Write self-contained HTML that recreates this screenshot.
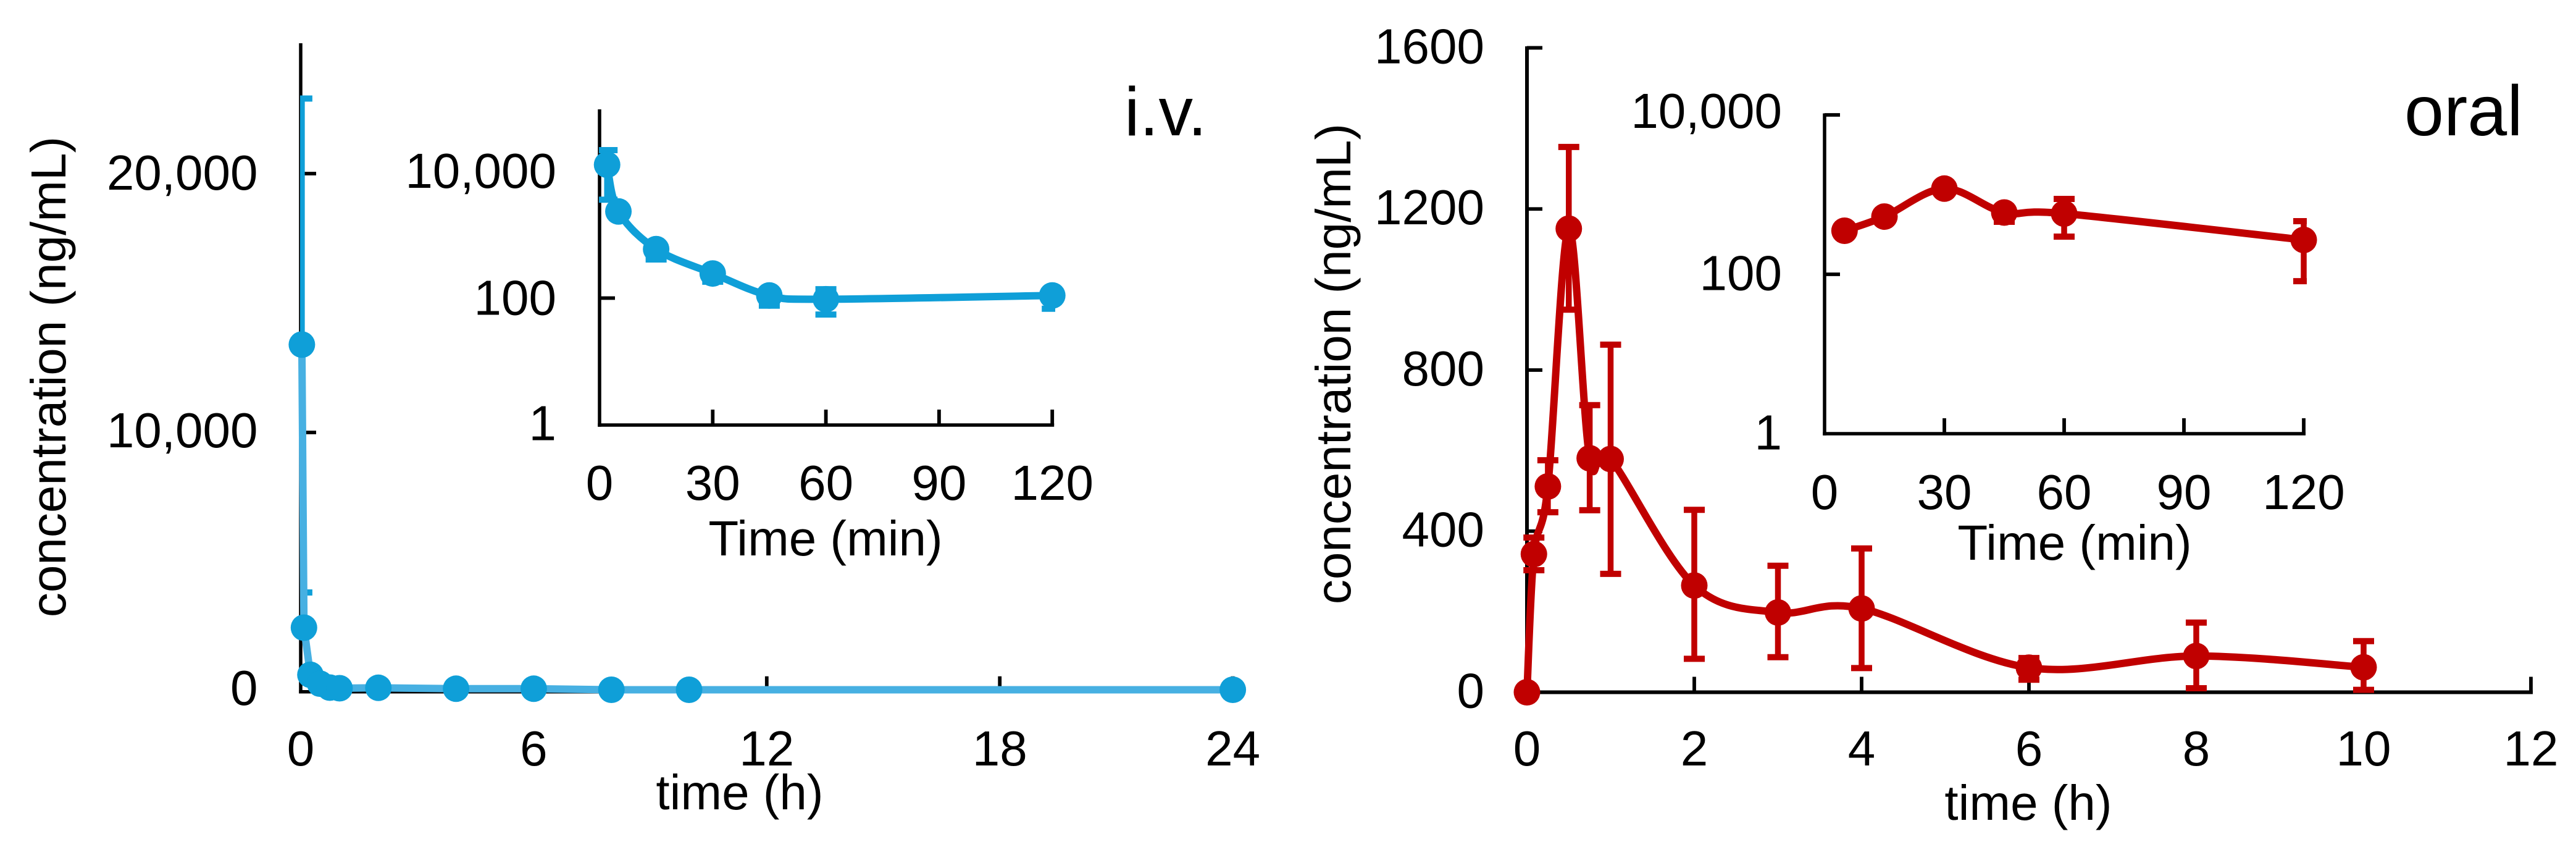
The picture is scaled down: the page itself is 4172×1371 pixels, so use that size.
<!DOCTYPE html>
<html lang="en">
<head>
<meta charset="utf-8">
<title>Concentration-time profiles, i.v. and oral</title>
<style>
  html,body{margin:0;padding:0;background:#fff;}
  #figure{display:block;width:4172px;height:1371px;}
  text{font-family:"Liberation Sans",Arial,sans-serif;fill:#000;font-size:80px;}
</style>
</head>
<body>
<svg id="figure" xmlns="http://www.w3.org/2000/svg" width="4172" height="1371" viewBox="0 0 4172 1371">
  <defs>
    <clipPath id="clip-iv-main"><rect x="486" y="0" width="1700" height="1371"/></clipPath>
    <clipPath id="clip-iv-inset"><rect x="970" y="100" width="739" height="700"/></clipPath>
    <clipPath id="clip-oral-main"><rect x="2400" y="0" width="1772" height="1371"/></clipPath>
    <clipPath id="clip-oral-inset"><rect x="2900" y="100" width="836" height="700"/></clipPath>
  </defs>
  <rect x="0" y="0" width="4172" height="1371" fill="#fff"/>
  <g id="iv-main"></g>
  <g id="iv-inset"></g>
  <g id="oral-main"></g>
  <g id="oral-inset"></g>

  <text transform="translate(106 610) rotate(-90)" text-anchor="middle">concentration (ng/mL)</text>
  <text x="1198" y="1310" text-anchor="middle">time (h)</text>
  <text x="1337" y="899" text-anchor="middle">Time (min)</text>
  <text x="1821" y="219" style="font-size:111px">i.v.</text>

  <text transform="translate(2187 589) rotate(-90)" text-anchor="middle">concentration (ng/mL)</text>
  <text x="3285" y="1327" text-anchor="middle">time (h)</text>
  <text x="3360" y="906" text-anchor="middle">Time (min)</text>
  <text x="3894" y="219" style="font-size:115px">oral</text>
</svg>

<script>
// ---- i.v. main chart data (hours, ng/mL)
var ivMainXTicks = [0, 6, 12, 18, 24];
var ivMainYTicks = [0, 10000, 20000];
var ivMainYLabels = ['0', '10,000', '20,000'];
var ivMainTimes = [0.03, 0.084, 0.25, 0.5, 0.75, 1, 2, 4, 6, 8, 10, 24];
var ivMainConc = [13394, 2458, 637, 294, 143, 119, 136, 100, 100, 60, 60, 60];
var ivMainHi = [22900, null, null, null, null, null, null, null, null, null, null, null];
var ivMainLo = [3820, null, null, null, null, null, null, null, null, null, null, null];

// ---- i.v. inset data (minutes, ng/mL, log axis)
var ivInsetXTicks = [0, 30, 60, 90, 120];
var ivInsetYTicks = [1, 100, 10000];
var ivInsetYLabels = ['1', '100', '10,000'];
var ivInsetTimes = [2, 5, 15, 30, 45, 60, 120];
var ivInsetConc = [12600, 2316, 590, 244, 110, 96, 110];
var ivInsetHi = [21400, 2700, 680, 280, 125, 138, 125];
var ivInsetLo = [3550, 2000, 406, 181, 76, 55, 68];

// ---- oral main chart data (hours, ng/mL)
var oralMainXTicks = [0, 2, 4, 6, 8, 10, 12];
var oralMainYTicks = [0, 400, 800, 1200, 1600];
var oralMainYLabels = ['0', '400', '800', '1200', '1600'];
var oralMainTimes = [0, 0.083, 0.25, 0.5, 0.75, 1, 2, 3, 4, 6, 8, 10];
var oralMainConc = [0, 343, 511, 1151, 581, 579, 265, 198, 208, 61, 90, 62];
var oralMainHi = [null, 384, 576, 1354, 713, 863, 453, 314, 357, 85, 173, 127];
var oralMainLo = [null, 303, 447, 950, 452, 294, 83, 87, 60, 31, 10, 6];

// ---- oral inset data (minutes, ng/mL, log axis)
var oralInsetXTicks = [0, 30, 60, 90, 120];
var oralInsetYTicks = [1, 100, 10000];
var oralInsetYLabels = ['1', '100', '10,000'];
var oralInsetTimes = [5, 15, 30, 45, 60, 120];
var oralInsetConc = [352, 530, 1189, 596, 578, 270];
var oralInsetHi = [380, 580, 1300, 650, 883, 464];
var oralInsetLo = [325, 480, 1080, 456, 297, 82];

// ---- axis functions
function ivMainX(t){ return 487 + t * 62.9; }
function ivMainY(v){ return 1119 - v * 0.0419; }
function ivInsetX(t){ return 971 + t * 6.11; }
function ivInsetY(v){ return 688 - Math.log10(v) * 102.75; }
function oralMainX(t){ return 2473 + t * 135.5; }
function oralMainY(v){ return 1120.5 - v * 0.6519; }
function oralInsetX(t){ return 2955 + t * 6.467; }
function oralInsetY(v){ return 702 - Math.log10(v) * 129; }

var NS = 'http://www.w3.org/2000/svg';

function addLine(parent, x1, y1, x2, y2, color, width){
  var el = document.createElementNS(NS, 'line');
  el.setAttribute('x1', x1);
  el.setAttribute('y1', y1);
  el.setAttribute('x2', x2);
  el.setAttribute('y2', y2);
  el.setAttribute('stroke', color);
  el.setAttribute('stroke-width', width);
  parent.appendChild(el);
  return el;
}

function addLabel(parent, x, y, anchor, str){
  var el = document.createElementNS(NS, 'text');
  el.setAttribute('x', x);
  el.setAttribute('y', y);
  el.setAttribute('text-anchor', anchor);
  el.textContent = str;
  parent.appendChild(el);
  return el;
}

function drawAxes(parent, prefix, opt){
  var lw = opt.lw;
  var yAxis = addLine(parent, opt.x0, opt.top, opt.x0, opt.y0 + lw / 2, '#000', lw);
  
  
  var xAxis = addLine(parent, opt.x0 - lw / 2, opt.y0, opt.xEnd + 3, opt.y0, '#000', lw);
  
  

  opt.xTicks.forEach(function(t){
    var px = opt.sx(t);
    if (t !== opt.xTicks[0]) {
      var tick = addLine(parent, px, opt.y0, px, opt.y0 - 25, '#000', 5.8);
      
      
    }
    var lab = addLabel(parent, px, opt.xLabelY, 'middle', String(t));
    
    
  });

  opt.yTicks.forEach(function(v, i){
    var py = opt.sy(v);
    if (i !== 0) {
      var tick = addLine(parent, opt.x0, py, opt.x0 + 25, py, '#000', 5.8);
      
      
    }
    var lab = addLabel(parent, opt.yLabelX, py + opt.yLabelDy(i), 'end', opt.yLabels[i]);
    
    
  });
}

function smoothPath(pts){
  var d = 'M' + pts[0][0] + ' ' + pts[0][1];
  for (var i = 0; i < pts.length - 1; i++) {
    var p0 = pts[Math.max(i - 1, 0)], p1 = pts[i], p2 = pts[i + 1], p3 = pts[Math.min(i + 2, pts.length - 1)];
    d += ' C' + (p1[0] + (p2[0] - p0[0]) / 6) + ' ' + (p1[1] + (p2[1] - p0[1]) / 6) +
         ' ' + (p2[0] - (p3[0] - p1[0]) / 6) + ' ' + (p2[1] - (p3[1] - p1[1]) / 6) +
         ' ' + p2[0] + ' ' + p2[1];
  }
  return d;
}

function straightPath(pts){
  return pts.map(function(p, i){ return (i ? 'L' : 'M') + p[0] + ' ' + p[1]; }).join(' ');
}

function drawSeries(parent, prefix, opt){
  var color = opt.color;
  var pts = opt.times.map(function(t, i){ return [opt.sx(t), opt.sy(opt.conc[i])]; });

  opt.times.forEach(function(t, i){
    if (opt.hi[i] === null) return;
    var px = opt.sx(t);
    var g = document.createElementNS(NS, 'g');
    
    
    g.setAttribute('clip-path', 'url(#' + opt.clip + ')');
    addLine(g, px, opt.sy(opt.hi[i]), px, opt.sy(opt.lo[i]), color, 9.5);
    addLine(g, px - 17, opt.sy(opt.hi[i]), px + 17, opt.sy(opt.hi[i]), color, 10);
    addLine(g, px - 17, opt.sy(opt.lo[i]), px + 17, opt.sy(opt.lo[i]), color, 10);
    parent.appendChild(g);
  });

  var path = document.createElementNS(NS, 'path');
  
  
  path.setAttribute('d', opt.smooth ? smoothPath(pts) : straightPath(pts));
  path.setAttribute('fill', 'none');
  path.setAttribute('stroke', opt.lineColor);
  path.setAttribute('stroke-width', 12);
  path.setAttribute('stroke-linejoin', 'round');
  parent.appendChild(path);

  pts.forEach(function(p){
    var c = document.createElementNS(NS, 'circle');
    
    
    c.setAttribute('cx', p[0]);
    c.setAttribute('cy', p[1]);
    c.setAttribute('r', 21.5);
    c.setAttribute('fill', color);
    parent.appendChild(c);
  });
}

var BLUE = '#0f9fd8', BLUE_LIGHT = '#47b0e2', RED = '#c00000';

var gIvMain = document.getElementById('iv-main');
drawAxes(gIvMain, 'iv-main', {
  x0: 487, y0: 1119.7, top: 70, xEnd: ivMainX(24), lw: 5.5, sx: ivMainX, sy: ivMainY,
  xTicks: ivMainXTicks, yTicks: ivMainYTicks, yLabels: ivMainYLabels,
  xLabelY: 1239, yLabelX: 417.5, yLabelDy: function(i){ return i === 0 ? 22 : (i === 1 ? 24 : 26); }
});
drawSeries(gIvMain, 'iv-main', {
  times: ivMainTimes, conc: ivMainConc, hi: ivMainHi, lo: ivMainLo,
  sx: ivMainX, sy: ivMainY, color: BLUE, lineColor: BLUE_LIGHT, smooth: false, clip: 'clip-iv-main'
});

var gIvInset = document.getElementById('iv-inset');
drawAxes(gIvInset, 'iv-inset', {
  x0: 971, y0: 688, top: 177, xEnd: ivInsetX(120), lw: 5.5, sx: ivInsetX, sy: ivInsetY,
  xTicks: ivInsetXTicks, yTicks: ivInsetYTicks, yLabels: ivInsetYLabels,
  xLabelY: 809, yLabelX: 901, yLabelDy: function(i){ return i === 0 ? 24.5 : 27; }
});
drawSeries(gIvInset, 'iv-inset', {
  times: ivInsetTimes, conc: ivInsetConc, hi: ivInsetHi, lo: ivInsetLo,
  sx: ivInsetX, sy: ivInsetY, color: BLUE, lineColor: BLUE, smooth: true, clip: 'clip-iv-inset'
});

var gOralMain = document.getElementById('oral-main');
drawAxes(gOralMain, 'oral-main', {
  x0: 2473, y0: 1120.5, top: 75, xEnd: oralMainX(12), lw: 6, sx: oralMainX, sy: oralMainY,
  xTicks: oralMainXTicks, yTicks: oralMainYTicks, yLabels: oralMainYLabels,
  xLabelY: 1239, yLabelX: 2404, yLabelDy: function(){ return 25; }
});
drawSeries(gOralMain, 'oral-main', {
  times: oralMainTimes, conc: oralMainConc, hi: oralMainHi, lo: oralMainLo,
  sx: oralMainX, sy: oralMainY, color: RED, lineColor: RED, smooth: true, clip: 'clip-oral-main'
});

var gOralInset = document.getElementById('oral-inset');
drawAxes(gOralInset, 'oral-inset', {
  x0: 2955, y0: 702, top: 183.5, xEnd: oralInsetX(120), lw: 5.5, sx: oralInsetX, sy: oralInsetY,
  xTicks: oralInsetXTicks, yTicks: oralInsetYTicks, yLabels: oralInsetYLabels,
  xLabelY: 824, yLabelX: 2886, yLabelDy: function(i){ return i === 2 ? 21 : 25.5; }
});
drawSeries(gOralInset, 'oral-inset', {
  times: oralInsetTimes, conc: oralInsetConc, hi: oralInsetHi, lo: oralInsetLo,
  sx: oralInsetX, sy: oralInsetY, color: RED, lineColor: RED, smooth: true, clip: 'clip-oral-inset'
});
</script>
</body>
</html>
